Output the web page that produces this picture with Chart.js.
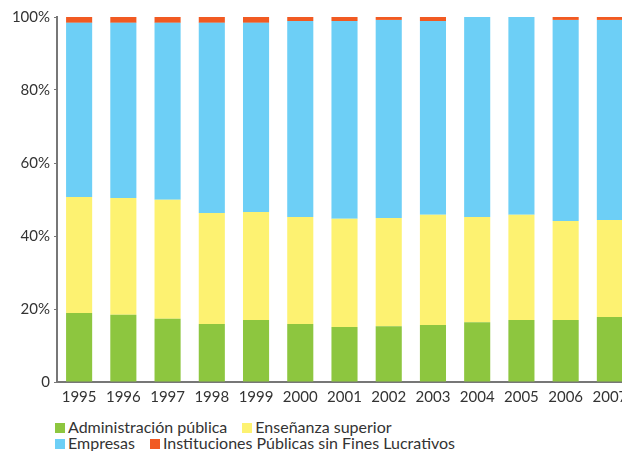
<!DOCTYPE html>
<html>
<head>
<meta charset="utf-8">
<script src="https://cdn.jsdelivr.net/npm/chart.js@4"></script>
<style>
  html, body { margin: 0; padding: 0; background: #fff; overflow: hidden; }
  #wrap { position: relative; width: 622px; height: 451px; overflow: hidden; }
  #box { position: absolute; left: 0; top: 0; width: 642px; height: 410px; }
  #legend { position: absolute; left: 55px; top: 419px; font-family: Lato, sans-serif; font-size: 16px; color: #333; line-height: 16px; }
  #legend .row { white-space: nowrap; }
  #legend .item { display: inline-block; margin-right: 15px; }
  #legend .sw { display: inline-block; width: 10px; height: 10px; margin-right: 3px; vertical-align: 0px; }
</style>
</head>
<body>
<div id="wrap">
  <div id="box"><canvas id="barGraph"></canvas></div>
  <div id="legend"></div>
</div>
<script>
const years = ['1995', '1996', '1997', '1998', '1999', '2000', '2001', '2002', '2003', '2004', '2005', '2006', '2007']

const administracion = [18.9, 18.4, 17.3, 15.9, 17.0, 15.9, 15.1, 15.3, 15.6, 16.4, 17.0, 17.0, 17.8]
const ensenanza = [31.8, 32.0, 32.6, 30.4, 29.6, 29.3, 29.6, 29.6, 30.2, 28.8, 28.8, 27.1, 26.6]
const empresas = [47.7, 48.0, 48.5, 52.1, 51.8, 53.7, 54.2, 54.3, 53.1, 54.8, 54.2, 55.1, 54.8]
const instituciones = [1.6, 1.9, 1.6, 1.9, 1.6, 1.1, 1.1, 0.8, 1.2, 0, 0, 0.8, 0.8]

const yTicks = [0, 20, 40, 60, 80, 100]

const series = [
   { label: 'Administración pública', data: administracion, color: '#8dc63f' },
   { label: 'Enseñanza superior', data: ensenanza, color: '#fdf271' },
   { label: 'Empresas', data: empresas, color: '#6dcff6' },
   { label: 'Instituciones Públicas sin Fines Lucrativos', data: instituciones, color: '#f15a22' }
]

const font = { family: 'Lato, sans-serif', size: 15 }

new Chart(document.getElementById('barGraph'), {
   type: 'bar',
   data: {
      labels: years,
      datasets: series.map(s => ({
         label: s.label,
         data: s.data,
         backgroundColor: s.color,
         borderWidth: 0,
         categoryPercentage: 1,
         barPercentage: 0.59
      }))
   },
   options: {
      responsive: true,
      maintainAspectRatio: false,
      animation: false,
      layout: { padding: { top: 17, right: 10, left: 0, bottom: 0 } },
      plugins: { legend: { display: false }, tooltip: { enabled: false } },
      scales: {
         x: {
            stacked: true,
            grid: { display: false },
            border: { display: true, color: '#777', width: 2 },
            ticks: { color: '#333', font: font, padding: -2, maxRotation: 0, autoSkip: false },
            afterFit: s => { s.height = 28 }
         },
         y: {
            stacked: true,
            min: 0,
            max: 100,
            afterBuildTicks: s => { s.ticks = yTicks.map(v => ({ value: v })) },
            grid: { drawOnChartArea: false, drawTicks: true, tickLength: 3, color: '#777' },
            border: { display: true, color: '#777', width: 2 },
            ticks: {
               color: '#333',
               font: font,
               padding: 4,
               callback: v => v === 0 ? '0' : v + '%'
            },
            afterFit: s => { s.width = 57 }
         }
      }
   }
});

const legend = document.getElementById('legend')
const rows = [[series[0], series[1]], [series[2], series[3]]]
rows.forEach(r => {
   const row = document.createElement('div')
   row.className = 'row'
   r.forEach(s => {
      const item = document.createElement('span')
      item.className = 'item'
      item.innerHTML = '<span class="sw" style="background:' + s.color + '"></span>' + s.label
      row.appendChild(item)
   })
   legend.appendChild(row)
})
</script>
</body>
</html>
